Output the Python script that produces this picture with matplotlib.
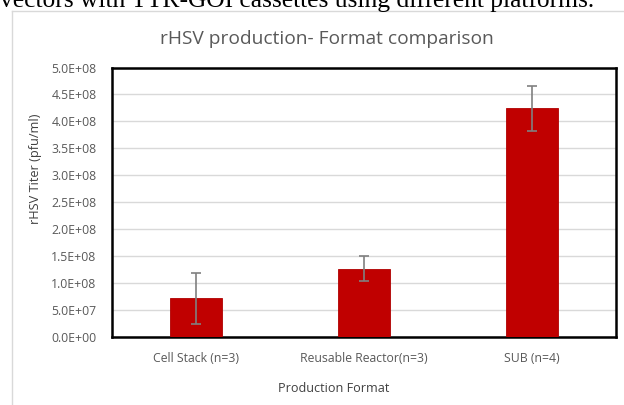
import numpy as np
import matplotlib.pyplot as plt
from matplotlib.lines import Line2D

categories = ["Cell Stack (n=3)", "Reusable Reactor(n=3)", "SUB (n=4)"]
titer = [7.2e7, 1.27e8, 4.24e8]
titer_err = [4.7e7, 2.4e7, 4.1e7]
yticks = np.arange(0, 5.01e8, 0.5e8)

fig = plt.figure(figsize=(6.24, 4.05), dpi=100)
fig.patch.set_facecolor("white")

# caption text cut at the top of the picture
fig.text(0.0, 1 - 7.5 / 405, "vectors with TTR-GOI cassettes using different platforms.",
         family="Liberation Serif", fontsize=18.4, color="black", ha="left", va="baseline")

# outer chart border (light grey)
fig.add_artist(Line2D([11.5 / 624, 11.5 / 624], [0, 1 - 11 / 405], color="#d9d9d9", lw=1,
                      transform=fig.transFigure))
fig.add_artist(Line2D([11.5 / 624, 1], [1 - 11 / 405, 1 - 11 / 405], color="#d9d9d9", lw=1,
                      transform=fig.transFigure))

ax = fig.add_axes([111.7 / 624, 68 / 405, 504 / 624, 269.5 / 405])
x = np.arange(len(categories))
ax.bar(x, titer, width=0.31, color="#c00000", edgecolor="#b00000", lw=0.6, zorder=3)
ax.errorbar(x, titer, yerr=titer_err, fmt="none", ecolor="#808080", elinewidth=1.2,
            capsize=3.5, capthick=1.2, zorder=4)

ax.set_xlim(-0.5, len(categories) - 0.5)
ax.set_ylim(0, 5e8)
ax.set_yticks(yticks)
ax.set_yticklabels([f"{v / 10 ** int(np.floor(np.log10(v))):.1f}E+{int(np.floor(np.log10(v))):02d}"
                    if v > 0 else "0.0E+00" for v in yticks])
ax.set_xticks(x)
ax.set_xticklabels(categories)
ax.grid(axis="y", color="#d9d9d9", lw=1, zorder=0)
ax.set_axisbelow(True)
for s in ax.spines.values():
    s.set_color("black")
    s.set_linewidth(1.8)
ax.tick_params(length=0, labelsize=8.8, labelcolor="#595959", pad=11)
for lab in ax.get_xticklabels() + ax.get_yticklabels():
    lab.set_family("Open Sans")
ax.tick_params(axis="x", pad=11)

fig.text(327 / 624, 1 - 39 / 405, "rHSV production- Format comparison", family="Open Sans",
         fontsize=13.8, color="#595959", ha="center", va="center")
fig.text(35 / 624, 1 - 169 / 405, "rHSV Titer (pfu/ml)", family="Open Sans", fontsize=9.2,
         color="#404040", rotation=90, ha="center", va="center")
fig.text(334 / 624, 1 - 389 / 405, "Production Format", family="Open Sans", fontsize=9.1,
         color="#404040", ha="center", va="center")

fig.savefig("out.png", dpi=100)
